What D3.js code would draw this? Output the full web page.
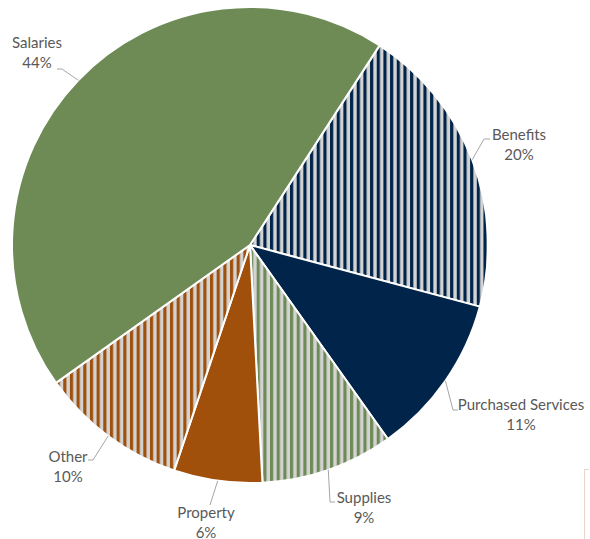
<!DOCTYPE html>
<html><head><meta charset="utf-8">
<script src="https://cdn.jsdelivr.net/npm/d3@7"></script>
<style>body{margin:0;background:#fff}svg{display:block}</style>
</head><body>
<script>
const categories = ["Benefits","Purchased Services","Supplies","Property","Other","Salaries"];
const values = [20, 11, 9, 6, 10, 44];
const pctLabels = ["20%","11%","9%","6%","10%","44%"];
const fills = ["stripe-navy","#00244A","stripe-green","#A0500A","stripe-orange","#6E8B56"];

const W = 590, H = 539;
const cx = 250, cy = 245, R = 238;
const svg = d3.select("body").append("svg").attr("width", W).attr("height", H);

const defs = svg.append("defs");
function stripe(id, color){
  const p = defs.append("pattern").attr("id", id).attr("patternUnits","userSpaceOnUse")
    .attr("width", 6.67).attr("height", 10);
  p.append("rect").attr("width", 6.67).attr("height", 10).attr("fill", "#D3D3D3");
  p.append("rect").attr("width", 3.2).attr("height", 10).attr("fill", color);
}
stripe("stripe-navy", "#00244A");
stripe("stripe-green", "#6E8B56");
stripe("stripe-orange", "#A0500A");

const startDeg = 33;
const pie = d3.pie().sort(null).value(d => d)
  .startAngle(startDeg*Math.PI/180).endAngle((startDeg+360)*Math.PI/180);
const arcs = pie(values);
const arc = d3.arc().innerRadius(0).outerRadius(R);

const g = svg.append("g").attr("transform", `translate(${cx},${cy})`);
g.selectAll("path").data(arcs).join("path")
  .attr("d", arc)
  .attr("fill", (d,i) => fills[i].startsWith("#") ? fills[i] : `url(#${fills[i]})`)
  .attr("stroke", "#fff").attr("stroke-width", 2).attr("stroke-linejoin","round");

const labelPos = [
  {x:519, y:140, line:[[484,139],[490,139]]},
  {x:521, y:410, line:[[453,410],[458,410]]},
  {x:364, y:503, line:[[330,502],[335,502]]},
  {x:206, y:518, line:[[210,505],[210,505]]},
  {x:68,  y:462, line:[[88,460],[93,460]]},
  {x:37,  y:48,  line:[[57,69],[62,69]]}
];
const font = "Lato, 'Open Sans', sans-serif";
arcs.forEach((d,i) => {
  const lp = labelPos[i];
  const a = (d.startAngle + d.endAngle)/2;
  const ex = cx + R*Math.sin(a), ey = cy - R*Math.cos(a);
  const [p0,p1] = lp.line;
  const near = (Math.abs(p0[0]-ex) < Math.abs(p1[0]-ex)) ? p0 : p1;
  const pts = [[ex,ey], near, (near===p0?p1:p0)];
  svg.append("path").attr("d", d3.line()(pts)).attr("fill","none")
    .attr("stroke","#A6A6A6").attr("stroke-width",1);
  const t = svg.append("text").attr("x", lp.x).attr("y", lp.y)
    .attr("text-anchor","middle").attr("font-family", font).attr("font-size", 15)
    .attr("fill","#595959");
  t.append("tspan").attr("x", lp.x).attr("dy", 0).text(categories[i]);
  t.append("tspan").attr("x", lp.x).attr("dy", 19.5).text(pctLabels[i]);
});

svg.append("path").attr("d","M584.5,539 V469.5 H589").attr("fill","none")
  .attr("stroke","#E6D5C8").attr("stroke-width",1);
</script>
</body></html>
